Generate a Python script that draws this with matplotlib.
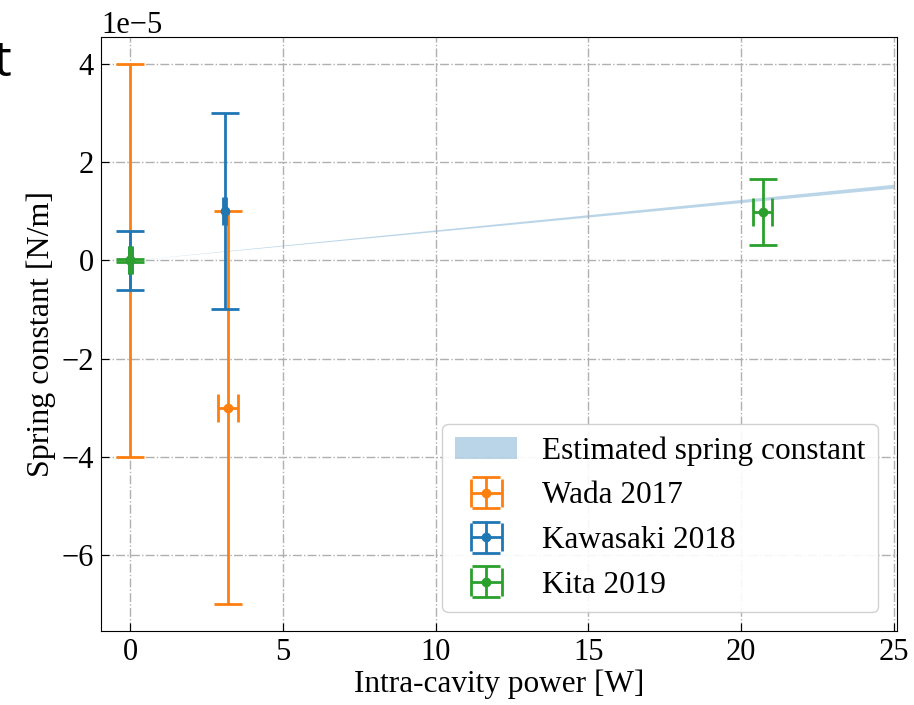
import numpy as np
import matplotlib.pyplot as plt

plt.rcParams['font.family'] = ['Liberation Serif', 'DejaVu Serif']
plt.rcParams['mathtext.fontset'] = 'stix'

# estimated spring constant band
power_est = [0, 25]
k_est_low = [0, 1.47e-5]
k_est_high = [0, 1.55e-5]

# measurements
wada_p = [0, 3.2]
wada_k = [0, -3e-5]
wada_kerr = [4e-5, 4e-5]
wada_perr = [0.0, 0.33]

kawa_p = [0, 3.1]
kawa_k = [0, 1.0e-5]
kawa_kerr = [0.6e-5, 2e-5]
kawa_perr = [0.05, 0.05]

kita_p = [0, 20.7]
kita_k = [0, 0.98e-5]
kita_kerr = [0.03e-5, 0.67e-5]
kita_perr = [0.03, 0.31]

fig = plt.figure(figsize=(9.14, 7.05), dpi=100)
ax = fig.add_axes([0.1105, 0.105, 0.871, 0.8426])

ax.fill_between(power_est, k_est_low, k_est_high, color='tab:blue', alpha=0.3,
                lw=0, label='Estimated spring constant')
ax.errorbar(wada_p, wada_k, yerr=wada_kerr, xerr=wada_perr, fmt='o', ms=6,
            color='tab:orange', elinewidth=2, capsize=10, capthick=2, label='Wada 2017')
ax.errorbar(kawa_p, kawa_k, yerr=kawa_kerr, xerr=kawa_perr, fmt='o', ms=6,
            color='tab:blue', elinewidth=2, capsize=10, capthick=2, label='Kawasaki 2018')
ax.errorbar(kita_p, kita_k, yerr=kita_kerr, xerr=kita_perr, fmt='o', ms=6,
            color='tab:green', elinewidth=2, capsize=10, capthick=2, label='Kita 2019')

ax.set_xlim(-0.95, 25.1)
ax.set_ylim(-7.55e-5, 4.55e-5)
ax.set_xticks([0, 5, 10, 15, 20, 25])
ax.grid(True, ls='-.', color='#b0b0b0', lw=1)
ax.tick_params(direction='in', labelsize=22, length=6, pad=5)
ax.yaxis.get_offset_text().set_fontsize(22)
ax.set_xlabel('Intra-cavity power [W]', fontsize=22.5, labelpad=2)
ax.set_ylabel('Spring constant [N/m]', fontsize=23, labelpad=4)

ax.legend(loc='lower right', fontsize=22.5, framealpha=0.9, handlelength=2.0,
          borderaxespad=0.6)

fig.text(0.012, 0.91, 't', fontsize=36, ha='right', va='center', family='Open Sans')

fig.savefig('out.png', dpi=100)
